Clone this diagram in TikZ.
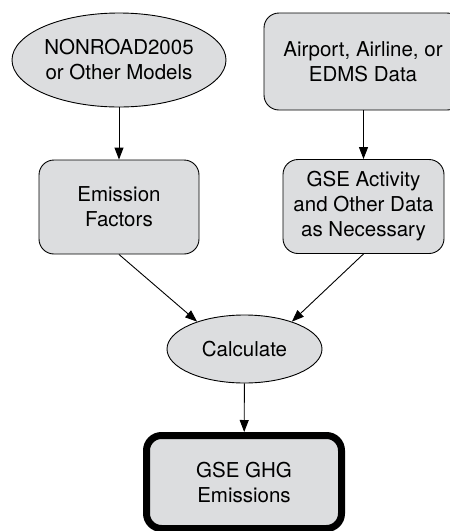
\documentclass[tikz,border=0pt]{standalone}
\usepackage{fontspec}
\setmainfont{TeX Gyre Heros}
\usetikzlibrary{shapes.geometric, arrows.meta}
\definecolor{boxgray}{RGB}{220,221,223}

\begin{document}
\begin{tikzpicture}[x=1pt, y=-1pt,
  every node/.style={font=\fontsize{20.5}{25}\selectfont, align=center, fill=boxgray, draw, line width=0.9pt, inner sep=0pt},
  oval/.style={ellipse, inner xsep=-10pt},
  rbox/.style={rounded corners=15pt},
  arr/.style={line width=0.9pt, -{Triangle[length=12pt, width=9pt]}}]
\useasboundingbox (0,0) rectangle (450,531);
% inputs
\node[oval, minimum width=214, minimum height=94] (nonroad) at (119, 60) {NONROAD2005\\or Other Models};
\node[rbox, minimum width=198, minimum height=97] (airport) at (363, 61.5) {Airport, Airline, or\\EDMS Data};
% data
\node[rbox, minimum width=160, minimum height=94] (ef) at (119, 207) {Emission\\Factors};
\node[rbox, minimum width=161, minimum height=94] (gse) at (363.5, 206.5) {GSE Activity\\and Other Data\\as Necessary};
% calculation and result
\node[oval, minimum width=155, minimum height=68] (calc) at (244.5, 349) {Calculate};
\node[rbox, line width=7pt, minimum width=195, minimum height=93] (ghg) at (244, 482) {GSE GHG\\Emissions};
% arrows
\draw[arr] (nonroad) -- (ef);
\draw[arr] (airport.south -| gse) -- (gse);
\draw[arr] (ef.south) -- (calc.150);
\draw[arr] (gse.south) -- (calc.30);
\draw[arr] (calc) -- (ghg);
\end{tikzpicture}
\end{document}
